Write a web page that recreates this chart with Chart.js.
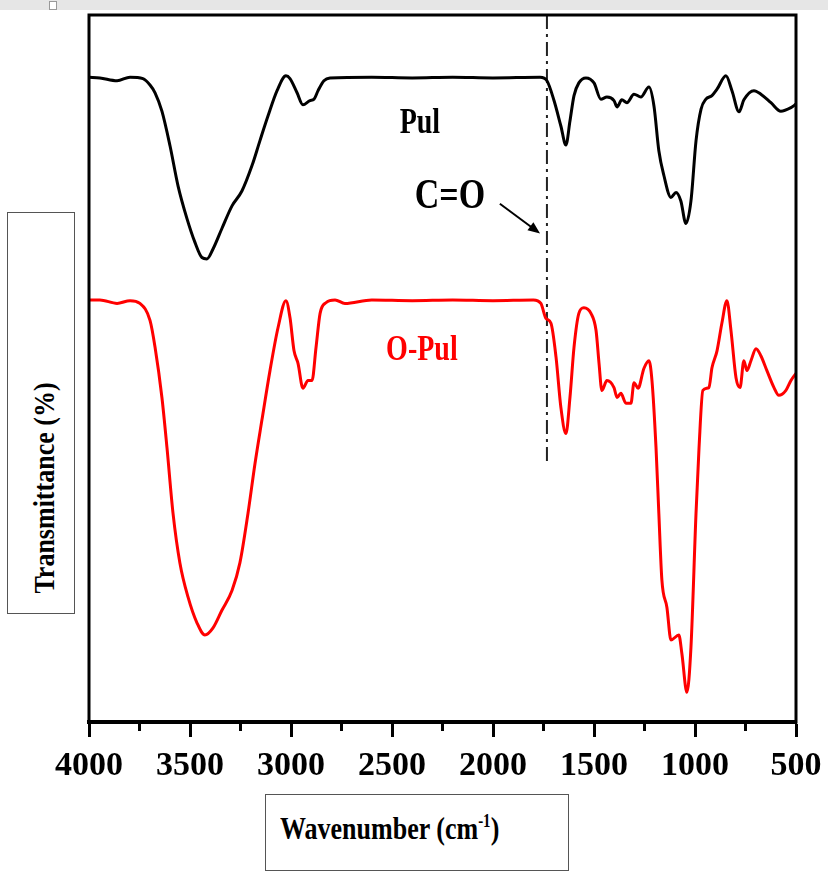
<!DOCTYPE html>
<html>
<head>
<meta charset="utf-8">
<script src="https://cdn.jsdelivr.net/npm/chart.js@4.4.1/dist/chart.umd.min.js"></script>
<style>
  body { margin: 0; background: #fff; }
  #wrap { position: relative; width: 828px; height: 879px; overflow: hidden; }
  #topbar { position: absolute; left: 0; top: 0; width: 828px; height: 10px; background: #e6e6e6; }
  #topbar span { position: absolute; left: 49px; top: 1px; width: 6px; height: 7px; border: 1px solid #999; background: #fff; }
  .box { position: absolute; border: 1px solid #555; background: #fff; font-family: "Liberation Serif", serif; font-weight: bold; color: #000; }
  #ylab { left: 7px; top: 212px; width: 66px; height: 400px; }
  #ylab div { position: absolute; left: 37px; top: 275px; transform: translate(-50%, -50%) rotate(-90deg) scaleY(1.1); white-space: nowrap; font-size: 26px; }
  #xlab { left: 265px; top: 794px; width: 302px; height: 75px; }
  #xlab div { position: absolute; left: 14px; top: 16px; white-space: nowrap; font-size: 26px; transform: scaleY(1.2); transform-origin: left top; }
</style>
</head>
<body>
<div id="wrap">
  <canvas id="ftir" width="828" height="879"></canvas>
  <div id="topbar"><span></span></div>
  <div class="box" id="ylab"><div>Transmittance (%)</div></div>
  <div class="box" id="xlab"><div>Wavenumber (cm<sup style="font-size:15px">-1</sup>)</div></div>
</div>
<script>
// x tick labels (wavenumber, cm-1)
const tickValues = [4000, 3500, 3000, 2500, 2000, 1500, 1000, 500];

// Pul spectrum (black)
const pulWn = [4000, 3946, 3861, 3797, 3733, 3698, 3673, 3639, 3599, 3559, 3515, 3475, 3441, 3416, 3386, 3342, 3292, 3243, 3193, 3154, 3114, 3069, 3025, 3005, 2970, 2941, 2906, 2886, 2866, 2837, 2807, 2600, 2400, 2200, 2000, 1767, 1733, 1698, 1664, 1639, 1619, 1599, 1575, 1540, 1500, 1466, 1436, 1401, 1386, 1362, 1337, 1302, 1268, 1228, 1203, 1179, 1154, 1119, 1094, 1070, 1045, 1020, 995, 970, 946, 916, 891, 847, 817, 782, 758, 708, 674, 624, 575, 525, 500];
const pulT = [91.2, 91.1, 90.7, 91.2, 91.0, 90.1, 89.0, 86.4, 81.5, 75.8, 71.2, 67.8, 65.7, 65.5, 66.9, 69.8, 73.0, 75.1, 78.7, 82.2, 85.7, 89.3, 91.4, 91.0, 89.0, 87.3, 87.9, 88.1, 89.3, 90.7, 91.1, 91.2, 91.1, 91.2, 91.1, 91.2, 90.7, 87.9, 84.3, 81.6, 85.0, 88.6, 90.4, 91.1, 90.4, 88.1, 88.4, 87.9, 87.0, 88.0, 87.6, 88.8, 88.4, 89.8, 87.1, 80.8, 77.3, 74.2, 74.9, 73.7, 70.5, 73.7, 82.2, 86.7, 88.1, 88.6, 89.5, 91.4, 89.3, 86.3, 88.0, 89.3, 88.8, 87.6, 86.4, 86.9, 87.4];

// O-Pul spectrum (red)
const opulWn = [4000, 3946, 3861, 3797, 3748, 3698, 3673, 3639, 3614, 3584, 3550, 3510, 3465, 3426, 3386, 3342, 3292, 3253, 3213, 3178, 3144, 3104, 3064, 3025, 3005, 2985, 2965, 2941, 2916, 2896, 2876, 2856, 2827, 2782, 2733, 2600, 2400, 2200, 2000, 1800, 1763, 1738, 1713, 1688, 1664, 1639, 1619, 1599, 1575, 1550, 1515, 1490, 1475, 1461, 1436, 1401, 1386, 1367, 1342, 1317, 1302, 1282, 1253, 1228, 1213, 1193, 1179, 1164, 1139, 1119, 1080, 1065, 1040, 1020, 995, 980, 961, 931, 916, 891, 867, 842, 822, 797, 777, 758, 743, 723, 698, 674, 644, 609, 585, 550, 525, 500];
const opulT = [59.7, 59.7, 59.2, 59.6, 59.2, 56.8, 53.0, 45.9, 38.8, 29.5, 22.5, 17.7, 14.0, 12.3, 13.3, 15.8, 18.6, 22.5, 29.5, 36.6, 42.7, 49.7, 55.8, 59.6, 57.2, 52.5, 50.7, 47.2, 48.3, 48.3, 53.0, 57.8, 59.3, 59.7, 59.2, 59.7, 59.6, 59.7, 59.6, 59.7, 59.2, 57.1, 56.4, 51.6, 44.5, 40.8, 45.9, 53.0, 57.8, 58.6, 57.8, 55.4, 50.7, 46.9, 48.3, 47.3, 45.9, 46.5, 45.1, 45.1, 48.0, 47.2, 50.0, 51.1, 48.3, 38.8, 29.5, 20.1, 16.2, 11.6, 12.3, 9.7, 4.2, 10.6, 29.5, 38.8, 46.9, 47.3, 50.1, 52.5, 56.4, 59.6, 55.4, 48.7, 47.3, 51.1, 49.7, 51.1, 52.8, 51.8, 49.7, 47.3, 46.2, 46.9, 48.3, 49.3];

// C=O marker line
const coWn = [1733, 1733];
const coT = [100, 36.7];

// annotation texts: [text, wavenumber, T, colour, font size]
const notes = [
    ['Pul', 2362, 84.6, '#000', 28],
    ['C=O', 2213, 74.2, '#000', 34],
    ['O-Pul', 2352, 52.5, '#ff0000', 28]
];
// arrow pointing at the C=O line: [wn start, T start, wn end, T end]
const arrow = [1966, 73.3, 1767, 69.1];

const toPoints = (xs, ys) => xs.map((x, i) => ({x: x, y: ys[i]}));

// draws the frame, minor ticks, labels and arrow
const extras = {
    id: 'extras',
    afterDraw(chart) {
        const ctx = chart.ctx;
        const a = chart.chartArea;
        const xs = chart.scales.x, ys = chart.scales.y;
        ctx.save();
        ctx.strokeStyle = '#000';
        ctx.lineWidth = 3;
        ctx.strokeRect(a.left, a.top, a.right - a.left, a.bottom - a.top);

        // minor ticks every 250
        for (let v = 3750; v > 500; v -= 500) {
            let px = xs.getPixelForValue(v);
            ctx.beginPath();
            ctx.moveTo(px, a.bottom);
            ctx.lineTo(px, a.bottom + 9);
            ctx.stroke();
        }

        // text labels
        ctx.textAlign = 'center';
        ctx.textBaseline = 'middle';
        notes.forEach(n => {
            ctx.fillStyle = n[3];
            ctx.font = 'bold ' + n[4] + 'px "Liberation Serif"';
            let px = xs.getPixelForValue(n[1]), py = ys.getPixelForValue(n[2]);
            ctx.save();
            ctx.translate(px, py);
            ctx.scale(1, 1.25);
            ctx.fillText(n[0], 0, 0);
            ctx.restore();
        });

        // arrow
        let x1 = xs.getPixelForValue(arrow[0]), y1 = ys.getPixelForValue(arrow[1]);
        let x2 = xs.getPixelForValue(arrow[2]), y2 = ys.getPixelForValue(arrow[3]);
        let ang = Math.atan2(y2 - y1, x2 - x1);
        ctx.lineWidth = 2;
        ctx.beginPath();
        ctx.moveTo(x1, y1);
        ctx.lineTo(x2 - 8 * Math.cos(ang), y2 - 8 * Math.sin(ang));
        ctx.stroke();
        ctx.fillStyle = '#000';
        ctx.beginPath();
        ctx.moveTo(x2, y2);
        ctx.lineTo(x2 - 12 * Math.cos(ang) + 5 * Math.sin(ang), y2 - 12 * Math.sin(ang) - 5 * Math.cos(ang));
        ctx.lineTo(x2 - 12 * Math.cos(ang) - 5 * Math.sin(ang), y2 - 12 * Math.sin(ang) + 5 * Math.cos(ang));
        ctx.closePath();
        ctx.fill();
        ctx.restore();
    }
};

const chart = new Chart(document.getElementById('ftir'), {
    type: 'scatter',
    data: {
        datasets: [
            {
                label: 'Pul',
                data: toPoints(pulWn, pulT),
                showLine: true,
                borderColor: '#000',
                borderWidth: 3,
                pointRadius: 0,
                cubicInterpolationMode: 'monotone'
            },
            {
                label: 'O-Pul',
                data: toPoints(opulWn, opulT),
                showLine: true,
                borderColor: '#ff0000',
                borderWidth: 3,
                pointRadius: 0,
                cubicInterpolationMode: 'monotone'
            },
            {
                label: 'C=O',
                data: toPoints(coWn, coT),
                showLine: true,
                borderColor: '#222',
                borderWidth: 2,
                borderDash: [14, 5, 3, 5],
                pointRadius: 0
            }
        ]
    },
    options: {
        responsive: false,
        animation: false,
        devicePixelRatio: 1,
        layout: { padding: { left: 89, right: 32, top: 15, bottom: 0 } },
        plugins: {
            legend: { display: false },
            tooltip: { enabled: false }
        },
        scales: {
            x: {
                type: 'linear',
                reverse: true,
                min: 500,
                max: 4000,
                afterFit: function(scale) {
                    scale.height = 879 - 722;
                    scale.paddingLeft = 0;
                    scale.paddingRight = 0;
                },
                afterBuildTicks: function(scale) { scale.ticks = tickValues.map(v => ({value: v})); },
                border: { display: true, color: '#000', width: 4 },
                grid: {
                    drawOnChartArea: false,
                    tickLength: 15,
                    tickWidth: 3,
                    tickColor: '#000'
                },
                ticks: {
                    color: '#000',
                    padding: 9,
                    maxRotation: 0,
                    callback: function(v) { return String(v); },
                    font: { family: 'Liberation Serif', weight: 'bold', size: 34 }
                }
            },
            y: {
                display: false,
                min: 0,
                max: 100
            }
        }
    },
    plugins: [extras]
});
</script>
</body>
</html>
